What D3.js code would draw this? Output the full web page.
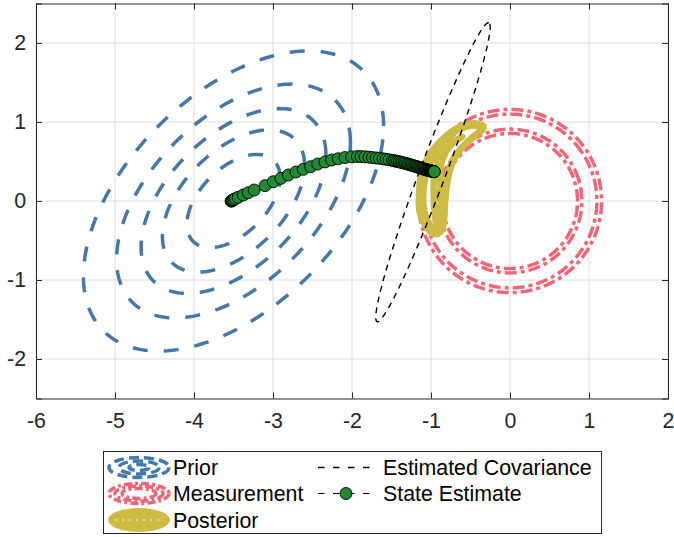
<!DOCTYPE html>
<html>
<head>
<meta charset="utf-8">
<script src="https://cdn.jsdelivr.net/npm/d3@7"></script>
<style>
  html, body { margin: 0; padding: 0; background: #fff; }
  svg { display: block; }
  text { font-family: "Liberation Sans", Arial, Helvetica, sans-serif; }
</style>
</head>
<body>
<svg id="chart" width="674" height="537"></svg>
<script>
// ---------------- data ----------------
const xTicks = [-6, -5, -4, -3, -2, -1, 0, 1, 2];
const yTicks = [-2, -1, 0, 1, 2];

// Prior: Gaussian contours (mean, correlation, contour radii)
const priorMean = [-3.5, 0.0];
const priorRho = 0.5;
const priorRadii = [1.90, 1.48, 1.17, 0.90, 0.59];

// Measurement: ring contours centred at origin
const measCenter = [0, 0];
const measRadii = [0.855, 0.91, 1.10, 1.16];

// Posterior contours (traced points)
const postAX = [-0.338, -0.485, -0.675, -0.865, -1.034, -1.118, -1.152, -1.145, -1.075, -0.962, -0.872, -0.835, -0.822, -0.802, -0.770, -0.713, -0.612, -0.464, -0.350];
const postAY = [0.949, 0.983, 0.920, 0.772, 0.561, 0.350, 0.097, -0.135, -0.310, -0.420, -0.385, -0.245, -0.030, 0.181, 0.350, 0.519, 0.667, 0.814, 0.899];
const postBX = [-0.367, -0.506, -0.675, -0.844, -0.983, -1.063, -1.097, -1.084, -1.025, -0.949, -0.899, -0.865, -0.844, -0.819, -0.785, -0.726, -0.624, -0.477, -0.376];
const postBY = [0.933, 0.949, 0.890, 0.751, 0.549, 0.342, 0.097, -0.127, -0.283, -0.359, -0.333, -0.219, -0.021, 0.181, 0.350, 0.519, 0.662, 0.806, 0.886];
const postCX = [-0.603, -0.738, -0.857, -0.941, -0.966, -0.958, -0.928, -0.882, -0.873, -0.882, -0.857, -0.759];
const postCY = [0.814, 0.738, 0.603, 0.414, 0.181, -0.072, -0.283, -0.198, 0.055, 0.308, 0.519, 0.696];

// Estimated covariance ellipse: centre, semi-axes, angle (deg)
const covCenter = [-0.975, 0.365];
const covAxes = [2.02, 0.165];
const covAngle = 69.5;

// State estimate trajectory
const estX = [-3.530, -3.525, -3.518, -3.508, -3.495, -3.475, -3.440, -3.376, -3.313, -3.237, -3.101, -2.996, -2.899, -2.806, -2.709, -2.616, -2.523, -2.434, -2.342, -2.257, -2.173, -2.089, -2.004, -1.933,
  -1.886, -1.835, -1.785, -1.741, -1.696, -1.652, -1.608, -1.570, -1.532, -1.490,
  -1.468, -1.446, -1.424, -1.403, -1.382, -1.362, -1.342, -1.323, -1.304, -1.286, -1.268, -1.251, -1.234, -1.218, -1.203, -1.187, -1.172, -1.158, -1.144, -1.130, -1.118, -1.105,
  -1.094, -1.082, -1.071, -1.061, -1.051, -1.042, -1.033, -1.024, -1.016, -1.009, -1.003, -0.996, -0.990, -0.985, -0.980, -0.975, -0.971, -0.967, -0.963, -0.961, -0.958];
const estY = [-0.002, 0.002, 0.006, 0.012, 0.019, 0.030, 0.047, 0.076, 0.105, 0.139, 0.194, 0.244, 0.287, 0.329, 0.367, 0.401, 0.434, 0.468, 0.494, 0.519, 0.535, 0.550, 0.558, 0.563,
  0.562, 0.559, 0.555, 0.550, 0.545, 0.540, 0.534, 0.528, 0.522, 0.514,
  0.509, 0.505, 0.500, 0.496, 0.491, 0.486, 0.481, 0.476, 0.470, 0.465, 0.460, 0.455, 0.450, 0.445, 0.440, 0.436, 0.431, 0.427, 0.422, 0.418, 0.414, 0.410,
  0.406, 0.403, 0.399, 0.396, 0.393, 0.390, 0.388, 0.386, 0.384, 0.382, 0.380, 0.379, 0.378, 0.377, 0.376, 0.375, 0.374, 0.373, 0.372, 0.372, 0.371];

const legendLabels = ["Prior", "Measurement", "Posterior", "Estimated Covariance", "State Estimate"];

// colours
const cPrior = "#4477AA", cMeas = "#EE6677", cPost = "#CCBB44", cEst = "#228833", cAxis = "#262626";

// ---------------- drawing ----------------
const svg = d3.select("#chart");
const x = d3.scaleLinear().domain([-6, 2]).range([36, 668]);
const y = d3.scaleLinear().domain([-2.5, 2.5]).range([398.5, 3.5]);
const X0 = 36, X1 = 668, Y0 = 3.5, Y1 = 398.5;

svg.append("defs").append("clipPath").attr("id", "clip")
  .append("rect").attr("x", X0).attr("y", Y0).attr("width", X1 - X0).attr("height", Y1 - Y0);

svg.append("rect").attr("x", X0).attr("y", Y0).attr("width", X1 - X0).attr("height", Y1 - Y0).attr("fill", "#fff");

// grid
const grid = svg.append("g");
grid.selectAll(".gx").data(xTicks).join("line")
  .attr("x1", d => x(d)).attr("x2", d => x(d)).attr("y1", Y0).attr("y2", Y1)
  .attr("stroke", "#dedede").attr("stroke-width", 1);
grid.selectAll(".gy").data(yTicks).join("line")
  .attr("y1", d => y(d)).attr("y2", d => y(d)).attr("x1", X0).attr("x2", X1)
  .attr("stroke", "#dedede").attr("stroke-width", 1);

const plot = svg.append("g").attr("clip-path", "url(#clip)");
const line = d3.line().x(d => x(d[0])).y(d => y(d[1]));
const N = 180;
const ts = d3.range(N + 1).map(i => 2 * Math.PI * i / N);

// prior contours
priorRadii.forEach(r => {
  const pts = ts.map(t => [priorMean[0] + r * Math.cos(t),
    priorMean[1] + r * (priorRho * Math.cos(t) + Math.sqrt(1 - priorRho * priorRho) * Math.sin(t))]);
  plot.append("path").attr("d", line(pts)).attr("fill", "none")
    .attr("stroke", cPrior).attr("stroke-width", 3.5).attr("stroke-dasharray", "15,16");
});

// measurement contours
measRadii.forEach((r, i) => {
  const pts = ts.map(t => [measCenter[0] + r * Math.cos(t + i * 0.3), measCenter[1] + r * Math.sin(t + i * 0.3)]);
  plot.append("path").attr("d", line(pts)).attr("fill", "none")
    .attr("stroke", cMeas).attr("stroke-width", 3.5).attr("stroke-dasharray", "12,4,4,4");
});

// posterior contours
const closed = d3.line().x(d => x(d[0])).y(d => y(d[1])).curve(d3.curveCatmullRomClosed);
[[postAX, postAY], [postBX, postBY], [postCX, postCY]].forEach(([px, py]) => {
  plot.append("path").attr("d", closed(px.map((v, i) => [v, py[i]])))
    .attr("fill", "none").attr("stroke", cPost).attr("stroke-width", 6.5).attr("stroke-linejoin", "round");
});

// covariance ellipse
{
  const a = covAngle * Math.PI / 180;
  const pts = ts.map(t => {
    const u = covAxes[0] * Math.cos(t), v = covAxes[1] * Math.sin(t);
    return [covCenter[0] + u * Math.cos(a) - v * Math.sin(a), covCenter[1] + u * Math.sin(a) + v * Math.cos(a)];
  });
  plot.append("path").attr("d", line(pts)).attr("fill", "none")
    .attr("stroke", "#000").attr("stroke-width", 1.4).attr("stroke-dasharray", "6,5");
}

// state estimate
const est = estX.map((v, i) => [v, estY[i]]);
plot.append("path").attr("d", line(est)).attr("fill", "none")
  .attr("stroke", "#000").attr("stroke-width", 1).attr("stroke-dasharray", "6,5");
plot.selectAll(".mk").data(est).join("circle")
  .attr("cx", d => x(d[0])).attr("cy", d => y(d[1])).attr("r", 6)
  .attr("fill", cEst).attr("stroke", "#000").attr("stroke-width", 0.9);

// axes (ticks inward)
const fmt = d => String(d);
const axB = svg.append("g").attr("transform", `translate(0,${Y1})`)
  .call(d3.axisBottom(x).tickValues(xTicks).tickFormat(fmt).tickSize(-6).tickPadding(14.5));
const axT = svg.append("g").attr("transform", `translate(0,${Y0})`)
  .call(d3.axisTop(x).tickValues(xTicks).tickFormat("").tickSize(-6));
const axL = svg.append("g").attr("transform", `translate(${X0},0)`)
  .call(d3.axisLeft(y).tickValues(yTicks).tickFormat(fmt).tickSize(-6).tickPadding(10));
const axR = svg.append("g").attr("transform", `translate(${X1},0)`)
  .call(d3.axisRight(y).tickValues(yTicks).tickFormat("").tickSize(-6));
[axB, axT, axL, axR].forEach(g => {
  g.selectAll("path.domain").attr("stroke", cAxis).attr("stroke-width", 1);
  g.selectAll(".tick line").attr("stroke", cAxis).attr("stroke-width", 1);
  g.selectAll(".tick text").attr("fill", cAxis).style("font-size", "21.33px")
    .style("font-family", '"Liberation Sans", Arial, Helvetica, sans-serif');
});

// legend
const lg = svg.append("g");
lg.append("rect").attr("x", 103.5).attr("y", 451.5).attr("width", 498).attr("height", 82)
  .attr("fill", "#fff").attr("stroke", cAxis).attr("stroke-width", 1);
const rowY = [467.5, 493.5, 520];
const iconCx = 139;
// prior icon
[[30, 10], [20, 6.5], [10, 3]].forEach(([rx, ry]) => {
  lg.append("ellipse").attr("cx", iconCx).attr("cy", rowY[0]).attr("rx", rx).attr("ry", ry)
    .attr("fill", "none").attr("stroke", cPrior).attr("stroke-width", 3.5).attr("stroke-dasharray", "10,5");
});
// measurement icon
[[30, 10], [24, 7.5], [17, 5]].forEach(([rx, ry]) => {
  lg.append("ellipse").attr("cx", iconCx).attr("cy", rowY[1]).attr("rx", rx).attr("ry", ry)
    .attr("fill", "none").attr("stroke", cMeas).attr("stroke-width", 3.5).attr("stroke-dasharray", "8,3,3,3");
});
// posterior icon
lg.append("ellipse").attr("cx", iconCx).attr("cy", rowY[2]).attr("rx", 31).attr("ry", 12).attr("fill", cPost);
lg.append("line").attr("x1", iconCx - 24).attr("x2", iconCx + 24).attr("y1", rowY[2]).attr("y2", rowY[2])
  .attr("stroke", "#fff").attr("stroke-width", 1.2).attr("stroke-dasharray", "2,5");
// covariance icon
lg.append("line").attr("x1", 318).attr("x2", 373).attr("y1", rowY[0]).attr("y2", rowY[0])
  .attr("stroke", "#000").attr("stroke-width", 1.4).attr("stroke-dasharray", "6.5,8.5");
// state estimate icon
lg.append("line").attr("x1", 318).attr("x2", 373).attr("y1", rowY[1]).attr("y2", rowY[1])
  .attr("stroke", "#000").attr("stroke-width", 1).attr("stroke-dasharray", "6.5,8.5");
lg.append("circle").attr("cx", 346).attr("cy", rowY[1]).attr("r", 6)
  .attr("fill", cEst).attr("stroke", "#000").attr("stroke-width", 0.9);

const textPos = [[173, rowY[0]], [173, rowY[1]], [173, rowY[2]], [383, rowY[0]], [383, rowY[1]]];
lg.selectAll(".lt").data(legendLabels).join("text")
  .attr("x", (d, i) => textPos[i][0]).attr("y", (d, i) => textPos[i][1])
  .attr("dy", "0.36em").attr("fill", "#000").style("font-size", "21.33px")
  .text(d => d);
</script>
</body>
</html>
